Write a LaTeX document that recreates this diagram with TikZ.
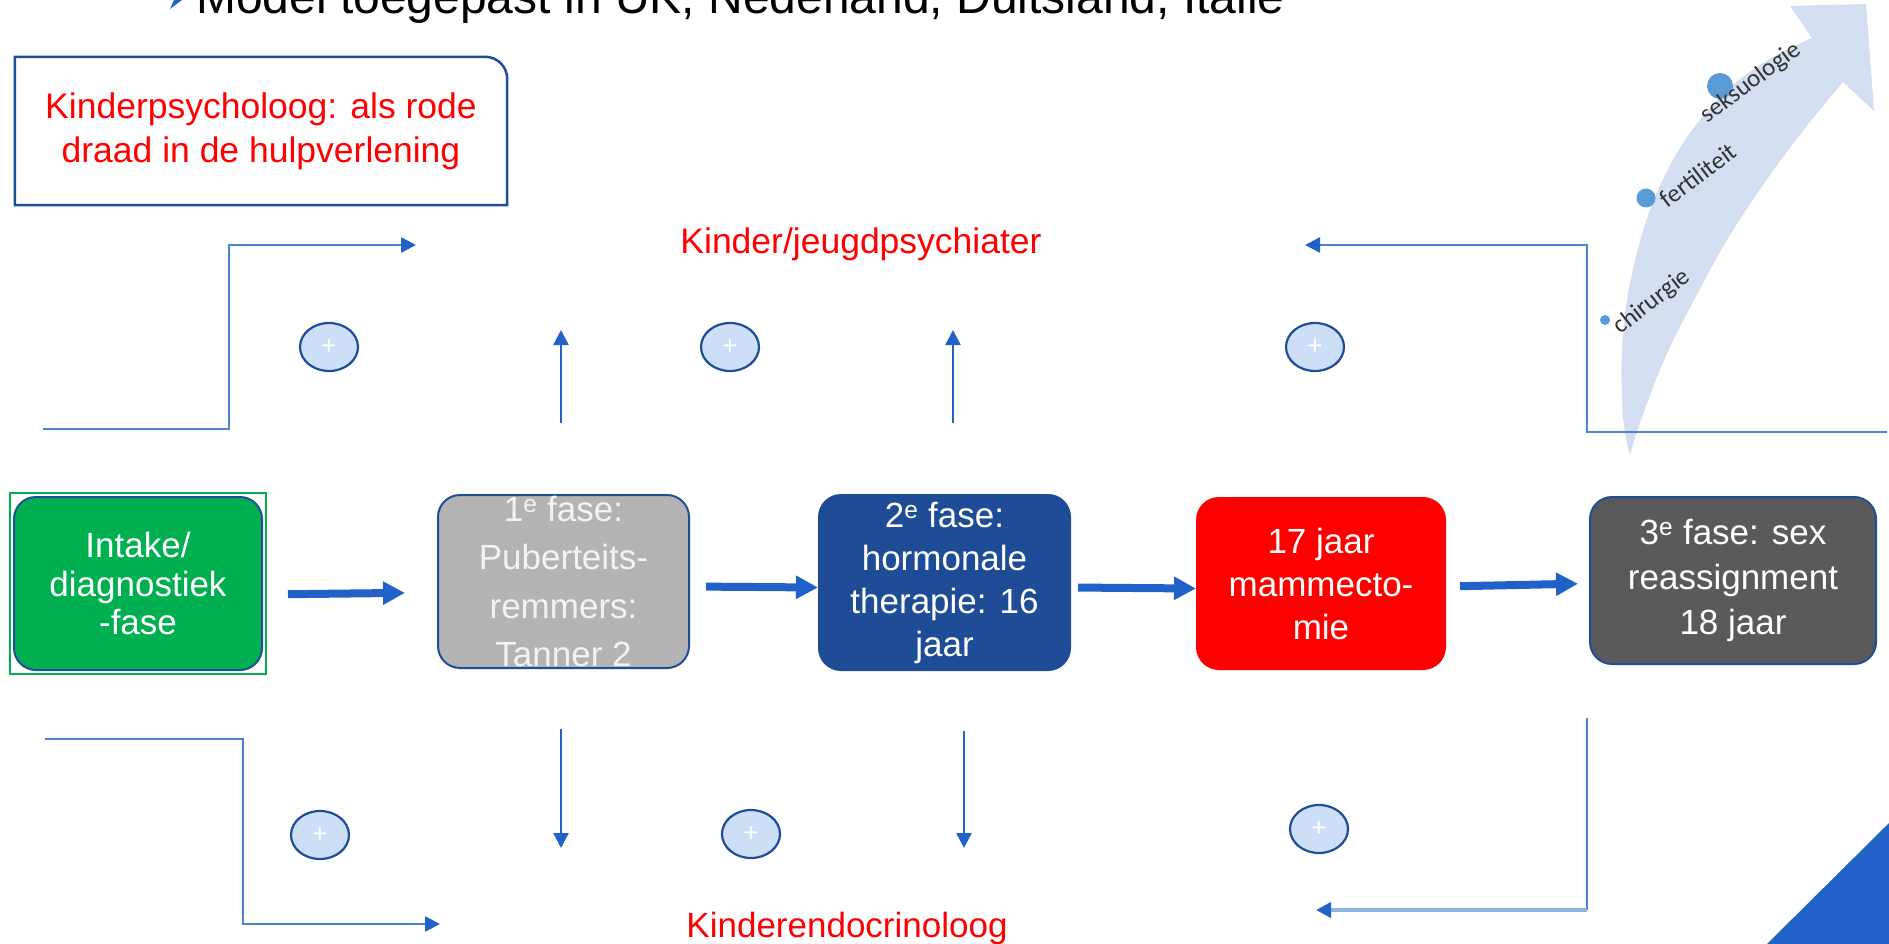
\documentclass[tikz,border=0pt]{standalone}
\usepackage{fontspec}
\setmainfont{Liberation Sans}
\newfontfamily\growfont{Carlito}
\usetikzlibrary{shapes}
\usetikzlibrary{arrows.meta}
\usetikzlibrary{calc}
\usetikzlibrary{positioning}
\usetikzlibrary{scopes}
\definecolor{darkframe}{RGB}{31,78,153}
\definecolor{flowblue}{RGB}{32,98,200}
\definecolor{linkblue}{RGB}{78,132,214}
\definecolor{linkpale}{RGB}{142,180,227}
\definecolor{plusfill}{RGB}{205,223,246}
\definecolor{growfill}{RGB}{211,222,240}
\definecolor{dotblue}{RGB}{91,155,213}
\definecolor{intakegreen}{RGB}{0,176,80}
\definecolor{blockergray}{RGB}{179,179,179}
\definecolor{hormoneblue}{RGB}{30,76,150}
\definecolor{surgeryred}{RGB}{255,0,0}
\definecolor{finalgray}{RGB}{90,90,90}
\tikzset{phase/.style={ draw=darkframe, line width=2pt, rounded corners=22pt,
            text=white, align=center, inner sep=0pt, font=\fontsize{35}{43}\selectfont },
            flow/.style={ draw=flowblue, line width=8pt, -{Triangle[length=22pt,width=22pt]} },
            link/.style={ draw=linkblue, line width=2.5pt },
            link tip/.style={ -{Triangle[length=15pt,width=15pt,color=flowblue]} },
            plus/.style={ ellipse, draw=darkframe, line width=2.2pt, fill=plusfill,
            minimum width=58pt, minimum height=48pt, inner sep=0pt, text=white,
            font=\fontsize{26}{26}\selectfont },
            care/.style={ text=surgeryred, font=\fontsize{35.5}{44}\selectfont, inner sep=0pt },
            grow label/.style={ text=black!80, font=\growfont\fontsize{25}{25}\selectfont, inner sep=0pt },
            grow dot/.style={ circle, fill=dotblue, inner sep=0pt, minimum size=#1 }}

\begin{document}
\begin{tikzpicture}[x=1pt,y=-1pt]
\useasboundingbox (0,0) rectangle (1889,944);
\clip (0,0) rectangle (1889,944);
%
\fill[flowblue] (170,-10) -- (182,0) -- (170,9) -- (174,0) -- cycle;
\node[anchor=base west, inner sep=0pt, font=\fontsize{48}{56}\selectfont] (title) at (196,14)
    {Model toegepast in UK, Nederland, Duitsland, Italie};
%
\fill[growfill] plot[smooth, tension=0.6] coordinates {(1630,455) (1623,417) (1622,350) (1630,283)
        (1650,210) (1680,148) (1722,95) (1768,60) (1812,38)}
    -- (1790,6) -- (1866,4) -- (1874,111)
    -- plot[smooth, tension=0.6] coordinates {(1843,82) (1802,132) (1763,185) (1727,240)
        (1695,298) (1665,358) (1642,417) (1630,455)} -- cycle;
\node[grow dot=26pt] (d3) at (1720,86) {};
\node[grow dot=19pt] (d2) at (1646,198) {};
\node[grow dot=10pt] (d1) at (1605,320) {};
\node[grow label, rotate=37] (seks) at (1751,83) {seksuologie};
\node[grow label, rotate=37] (fert) at (1698,175) {fertiliteit};
\node[grow label, rotate=38] (chir) at (1652,302) {chirurgie};
%
\node[care, align=center, minimum width=492pt, minimum height=148pt] (psych) at (261,131)
    {Kinderpsycholoog: als rode\\draad in de hulpverlening};
\draw[darkframe, line width=2.5pt] (psych.south west) -- (psych.north west)
    -- ([xshift=-22pt]psych.north east) arc[start angle=90, end angle=0, radius=22pt]
    -- (psych.south east) -- cycle;
\node[care, anchor=base] (psychiater) at (861,253) {Kinder/jeugdpsychiater};
\node[care, anchor=base, font=\fontsize{35}{44}\selectfont] (endo) at (847,937) {Kinderendocrinoloog};
%
\node[phase, fill=intakegreen, minimum width=248pt, minimum height=173pt,
    font=\fontsize{35}{38.5}\selectfont] (intake) at (138,583.5) {Intake/\\diagnostiek\\-fase};
\draw[intakegreen, line width=1.5pt] ([xshift=-3pt,yshift=3pt]intake.north west)
    rectangle ([xshift=3pt,yshift=-3pt]intake.south east);
\node[phase, fill=blockergray, text=white!95!black, minimum width=251pt, minimum height=173pt,
    font=\fontsize{35}{48.5}\selectfont] (fase1) at (563.5,581.5)
    {1\textsuperscript{e} fase:\\Puberteits-\\remmers:\\Tanner 2};
\node[phase, fill=hormoneblue, draw=hormoneblue, minimum width=251pt, minimum height=175pt] (fase2)
    at (944.5,582.5) {2\textsuperscript{e} fase:\\hormonale\\therapie: 16\\jaar};
\node[phase, fill=surgeryred, draw=surgeryred, minimum width=248pt, minimum height=171pt] (mast)
    at (1321,583.5) {17 jaar\\mammecto-\\mie};
\node[phase, fill=finalgray, minimum width=286pt, minimum height=167pt,
    font=\fontsize{35}{45}\selectfont] (fase3) at (1733,580.5)
    {3\textsuperscript{e} fase: sex\\reassignment\\18 jaar};
%
\draw[flow, shorten <=25pt, shorten >=32pt] ([yshift=-11pt]intake.east) -- ([yshift=-11pt]fase1.west);
\draw[flow, shorten <=16pt] ([yshift=-5pt]fase1.east) -- ([yshift=-5pt]fase2.west);
\draw[flow, shorten <=7pt] ([yshift=-5pt]fase2.east) -- ([yshift=-5pt]mast.west);
\draw[flow, shorten <=14pt, shorten >=11pt] ([yshift=-3pt]mast.east) -- ([yshift=-3pt]fase3.west);
%
\coordinate (tl start) at (43,429);   \coordinate (tl bend) at (229,245);  \coordinate (tl end) at (416,245);
\coordinate (tr start) at (1887,432); \coordinate (tr bend) at (1587,245); \coordinate (tr end) at (1305,245);
\coordinate (bl start) at (45,739);   \coordinate (bl bend) at (243,924);  \coordinate (bl end) at (440,924);
\coordinate (br start) at (1587,718); \coordinate (br bend) at (1587,910); \coordinate (br end) at (1316,910);
\coordinate (up1) at (561,423);   \coordinate (up1 end) at (561,330);
\coordinate (up2) at (953,423);   \coordinate (up2 end) at (953,330);
\coordinate (dn1) at (561,729);   \coordinate (dn1 end) at (561,848);
\coordinate (dn2) at (964,731);   \coordinate (dn2 end) at (964,848);
\draw[link, link tip] (tl start) -| (tl bend) -- (tl end);
\draw[link, link tip] (tr start) -| (tr bend) -- (tr end);
\draw[link, link tip] (bl start) -| (bl bend) -- (bl end);
\draw[link] (br start) -- (br bend);
\draw[link, link tip, draw=linkpale, line width=4pt] (br bend) -- (br end);
\draw[link, link tip, draw=flowblue] (up1) -- (up1 end);
\draw[link, link tip, draw=flowblue] (up2) -- (up2 end);
\draw[link, link tip, draw=flowblue] (dn1) -- (dn1 end);
\draw[link, link tip, draw=flowblue] (dn2) -- (dn2 end);
%
\node[plus] (p1) at (329,347) {+};
\node[plus] (p2) at (730,347) {+};
\node[plus] (p3) at (1315,347) {+};
\node[plus] (p4) at (320,835) {+};
\node[plus] (p5) at (751,834) {+};
\node[plus] (p6) at (1319,829) {+};
%
\fill[flowblue] (1767,944) -- (1889,823) -- (1889,944) -- cycle;
\end{tikzpicture}
\end{document}
